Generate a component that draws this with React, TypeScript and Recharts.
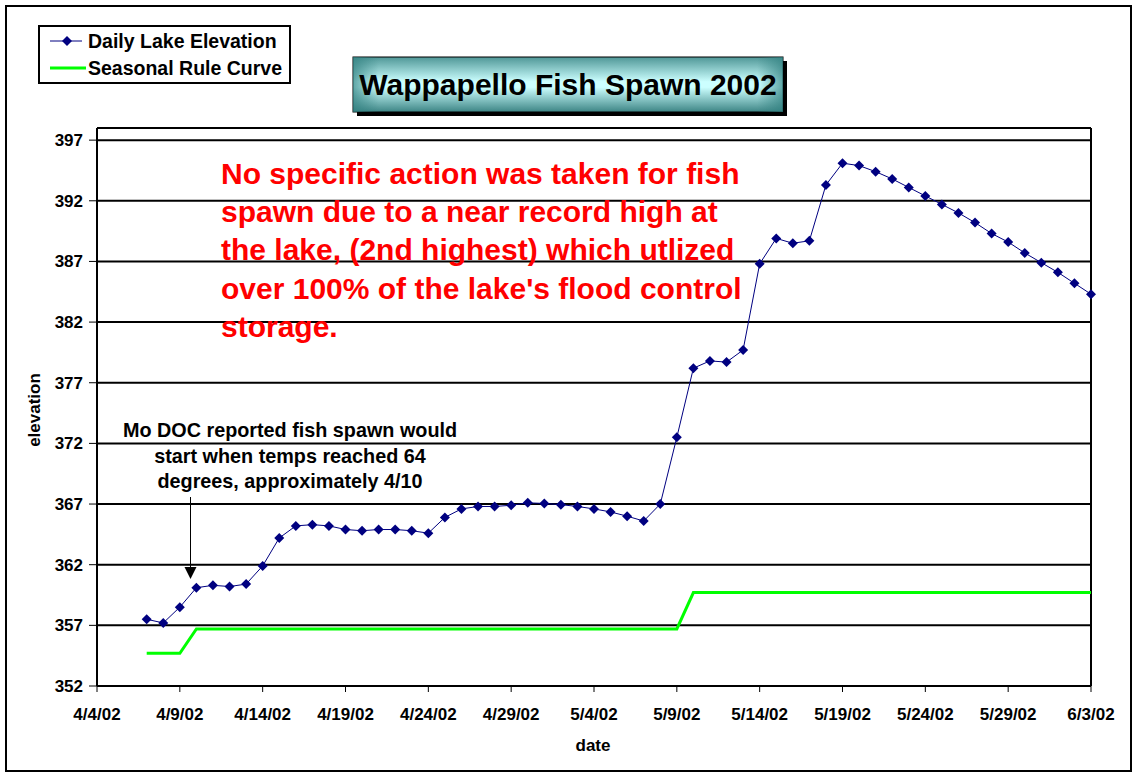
import React from 'react'
import { LineChart, Line, XAxis, YAxis, CartesianGrid, ReferenceLine } from 'recharts'

// daily readings, 4/7/02 .. 6/3/02
const dates = [
  '4/7/02', '4/8/02', '4/9/02', '4/10/02', '4/11/02', '4/12/02', '4/13/02', '4/14/02',
  '4/15/02', '4/16/02', '4/17/02', '4/18/02', '4/19/02', '4/20/02', '4/21/02', '4/22/02',
  '4/23/02', '4/24/02', '4/25/02', '4/26/02', '4/27/02', '4/28/02', '4/29/02', '4/30/02',
  '5/1/02', '5/2/02', '5/3/02', '5/4/02', '5/5/02', '5/6/02', '5/7/02', '5/8/02',
  '5/9/02', '5/10/02', '5/11/02', '5/12/02', '5/13/02', '5/14/02', '5/15/02', '5/16/02',
  '5/17/02', '5/18/02', '5/19/02', '5/20/02', '5/21/02', '5/22/02', '5/23/02', '5/24/02',
  '5/25/02', '5/26/02', '5/27/02', '5/28/02', '5/29/02', '5/30/02', '5/31/02', '6/1/02',
  '6/2/02', '6/3/02',
]

const lakeElevation = [
  357.5, 357.2, 358.5, 360.1, 360.3, 360.2, 360.4, 361.9,
  364.2, 365.2, 365.3, 365.2, 364.9, 364.8, 364.9, 364.9,
  364.8, 364.6, 365.9, 366.6, 366.8, 366.8, 366.9, 367.1,
  367.05, 366.95, 366.8, 366.6, 366.35, 366.0, 365.6, 367.0,
  372.5, 378.2, 378.8, 378.7, 379.7, 386.8, 388.9, 388.5,
  388.7, 393.3, 395.1, 394.9, 394.4, 393.8, 393.1, 392.4,
  391.7, 391.0, 390.2, 389.3, 388.6, 387.7, 386.9, 386.1,
  385.2, 384.3,
]

const ruleCurve = [
  354.7, 354.7, 354.7, 356.7, 356.7, 356.7, 356.7, 356.7,
  356.7, 356.7, 356.7, 356.7, 356.7, 356.7, 356.7, 356.7,
  356.7, 356.7, 356.7, 356.7, 356.7, 356.7, 356.7, 356.7,
  356.7, 356.7, 356.7, 356.7, 356.7, 356.7, 356.7, 356.7,
  356.7, 359.7, 359.7, 359.7, 359.7, 359.7, 359.7, 359.7,
  359.7, 359.7, 359.7, 359.7, 359.7, 359.7, 359.7, 359.7,
  359.7, 359.7, 359.7, 359.7, 359.7, 359.7, 359.7, 359.7,
  359.7, 359.7,
]

const xTickLabels = [
  '4/4/02', '4/9/02', '4/14/02', '4/19/02', '4/24/02', '4/29/02', '5/4/02',
  '5/9/02', '5/14/02', '5/19/02', '5/24/02', '5/29/02', '6/3/02',
]
const yTicks = [352, 357, 362, 367, 372, 377, 382, 387, 392, 397]
const yMinorTicks = Array.from({ length: 46 }, (_, i) => 352 + i)

const noteLines = [
  'No specific action was taken for fish',
  'spawn due to a near record high at',
  "the lake, (2nd highest) which utlized",
  "over 100% of the lake's flood control",
  'storage.',
]
const docLines = [
  'Mo DOC reported fish spawn would',
  'start when temps reached 64',
  'degrees, approximately 4/10',
]

// days since 4/4/02
function dayIndex(label: string) {
  const [m, d] = label.split('/').map(Number)
  return m === 4 ? d - 4 : m === 5 ? 26 + d : 57 + d
}

const data = dates.map((date, i) => ({
  day: dayIndex(date),
  elevation: lakeElevation[i],
  rule: ruleCurve[i],
}))
const xTicks = xTickLabels.map(dayIndex)

const FONT = 'Arial, "Liberation Sans", sans-serif'
const NAVY = '#000080'
const GREEN = '#00ff00'

const Diamond = (props: any) => {
  const { cx, cy, key } = props
  if (cx == null || cy == null) return null
  const r = 5
  return (
    <polygon
      key={key}
      points={`${cx},${cy - r} ${cx + r},${cy} ${cx},${cy + r} ${cx - r},${cy}`}
      fill={NAVY}
    />
  )
}

const tickStyle = { fill: '#000', fontSize: 17, fontWeight: 700, fontFamily: FONT }

export default function App() {
  return (
    <div style={{ position: 'absolute', left: 0, top: 0, width: 1138, height: 778, background: '#fff' }}>
      <LineChart
        width={1138}
        height={778}
        data={data}
        margin={{ top: 128, right: 47, bottom: 32, left: 37 }}
      >
        <CartesianGrid vertical={false} stroke="#000" strokeWidth={2} horizontalValues={yTicks} />
        <XAxis
          dataKey="day"
          type="number"
          domain={[0, 60]}
          ticks={xTicks}
          tickFormatter={(v) => xTickLabels[xTicks.indexOf(v)] ?? ''}
          height={60}
          axisLine={{ stroke: '#000', strokeWidth: 2 }}
          tickLine={{ stroke: '#000' }}
          tickSize={6}
          tickMargin={16}
          tick={tickStyle}
          interval={0}
        />
        <YAxis
          domain={[352, 398]}
          ticks={yTicks}
          width={60}
          axisLine={{ stroke: '#000', strokeWidth: 2 }}
          tickLine={{ stroke: '#000' }}
          tickSize={8}
          tickMargin={6}
          tick={tickStyle}
          interval={0}
        />
        <YAxis
          yAxisId="minor"
          domain={[352, 398]}
          ticks={yMinorTicks}
          width={0}
          axisLine={false}
          tickLine={{ stroke: '#000' }}
          tickSize={4}
          tick={false}
          interval={0}
        />
        <ReferenceLine y={398} stroke="#000" strokeWidth={2} />
        <ReferenceLine x={60} stroke="#000" strokeWidth={2} />
        <Line
          dataKey="rule"
          stroke={GREEN}
          strokeWidth={3}
          dot={false}
          isAnimationActive={false}
        />
        <Line
          dataKey="elevation"
          stroke={NAVY}
          strokeWidth={1}
          dot={Diamond}
          isAnimationActive={false}
        />
      </LineChart>

      <svg
        width={1138}
        height={778}
        style={{ position: 'absolute', left: 0, top: 0, pointerEvents: 'none' }}
        fontFamily={FONT}
        fontWeight={700}
      >
        <defs>
          <linearGradient id="titleV" x1="0" y1="0" x2="0" y2="1">
            <stop offset="0" stopColor="#4f9797" />
            <stop offset="0.45" stopColor="#ccffff" />
            <stop offset="0.55" stopColor="#ccffff" />
            <stop offset="1" stopColor="#3d8585" />
          </linearGradient>
          <linearGradient id="titleH" x1="0" y1="0" x2="1" y2="0">
            <stop offset="0" stopColor="#2f7f7f" stopOpacity={0.7} />
            <stop offset="0.06" stopColor="#2f7f7f" stopOpacity={0} />
            <stop offset="0.94" stopColor="#2f7f7f" stopOpacity={0} />
            <stop offset="1" stopColor="#2f7f7f" stopOpacity={0.7} />
          </linearGradient>
        </defs>

        <rect x={6} y={6} width={1125} height={765} fill="none" stroke="#000" strokeWidth={2} />

        {/* legend */}
        <rect x={39} y={26} width={251} height={57} fill="#fff" stroke="#000" strokeWidth={2} />
        <line x1={50} y1={41} x2={82} y2={41} stroke={NAVY} strokeWidth={1} />
        <Diamond cx={67} cy={41} />
        <text x={88} y={48} fontSize={19.5}>Daily Lake Elevation</text>
        <line x1={50} y1={68} x2={86} y2={68} stroke={GREEN} strokeWidth={3} />
        <text x={88} y={75} fontSize={19.5}>Seasonal Rule Curve</text>

        {/* title */}
        <rect x={357} y={61} width={430} height={55} fill="#000" />
        <rect x={353} y={57} width={430} height={55} fill="url(#titleV)" stroke="#000" strokeWidth={1} />
        <rect x={353} y={57} width={430} height={55} fill="url(#titleH)" />
        <text x={568} y={95} fontSize={30} textAnchor="middle">Wappapello Fish Spawn 2002</text>

        {/* red note */}
        {noteLines.map((t, i) => (
          <text key={t} x={221} y={184 + i * 38.2} fontSize={30} fill="#ff0000">{t}</text>
        ))}

        {/* Mo DOC note and arrow */}
        {docLines.map((t, i) => (
          <text key={t} x={290} y={437 + i * 25.5} fontSize={19.8} textAnchor="middle">{t}</text>
        ))}
        <line x1={190.5} y1={497} x2={190.5} y2={568} stroke="#000" strokeWidth={1} />
        <polygon points="184.5,567 196.5,567 190.5,579" fill="#000" />

        {/* axis titles */}
        <text x={593} y={751} fontSize={17} textAnchor="middle">date</text>
        <text x={40} y={410} fontSize={17} textAnchor="middle" transform="rotate(-90 40 410)">elevation</text>
      </svg>
    </div>
  )
}
